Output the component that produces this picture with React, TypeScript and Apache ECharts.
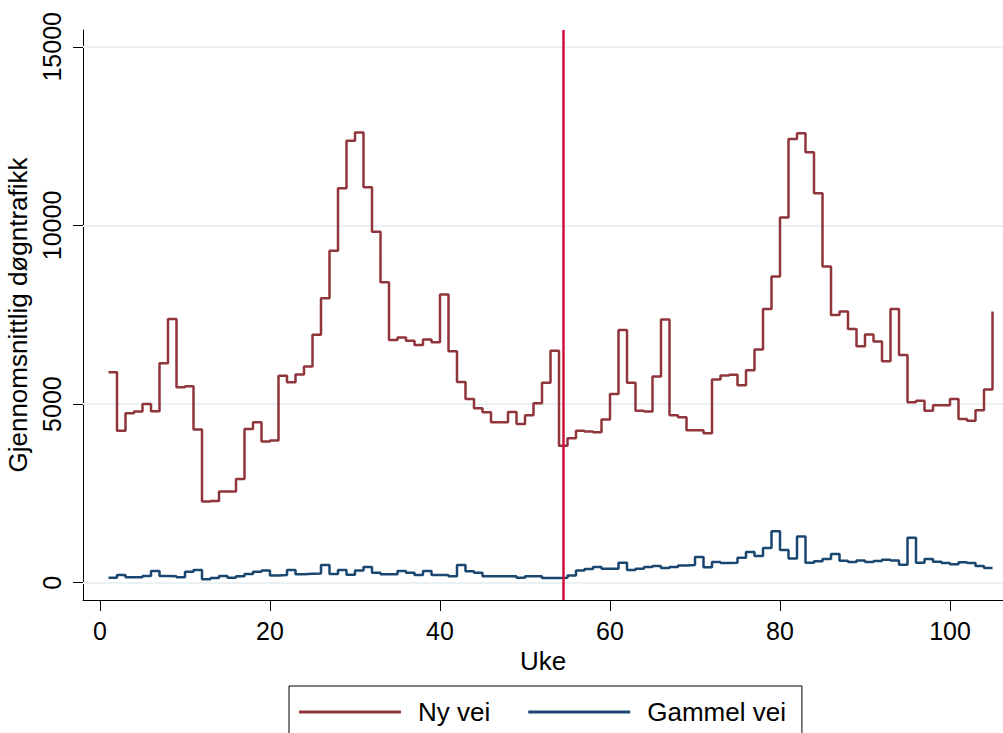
import React, { useEffect, useRef } from "react";
import * as echarts from "echarts";

const weeks: number[] = Array.from({ length: 105 }, (_, i) => i + 1);

const nyVei: number[] = [
  5890, 4250, 4740, 4790, 5000, 4800, 6140, 7380, 5470, 5500,
  4290, 2270, 2290, 2550, 2550, 2900, 4300, 4490, 3950, 3980,
  5790, 5610, 5830, 6050, 6940, 7960, 9290, 11040, 12370, 12600,
  11070, 9820, 8410, 6790, 6860, 6770, 6650, 6810, 6730, 8070,
  6480, 5620, 5140, 4880, 4770, 4490, 4490, 4780, 4440, 4690,
  5020, 5600, 6490, 3830, 4040, 4250, 4230, 4210, 4570, 5280,
  7070, 5600, 4810, 4790, 5770, 7370, 4690, 4630, 4270, 4270,
  4180, 5690, 5800, 5820, 5530, 5950, 6530, 7660, 8570, 10220,
  12420, 12580, 12050, 10900, 8850, 7490, 7590, 7100, 6620, 6950,
  6750, 6200, 7660, 6370, 5050, 5090, 4810, 4970, 4970, 5140,
  4580, 4530, 4830, 5410, 7590,
];

const gammelVei: number[] = [
  140, 215, 150, 150, 185, 325, 185, 180, 150, 310,
  355, 95, 130, 185, 140, 180, 245, 310, 345, 205,
  215, 355, 235, 250, 260, 495, 245, 355, 225, 345,
  440, 280, 235, 235, 325, 280, 215, 325, 215, 215,
  180, 495, 320, 280, 180, 180, 180, 180, 140, 180,
  180, 130, 130, 140, 205, 345, 385, 440, 390, 390,
  560, 355, 390, 440, 465, 410, 440, 485, 495, 720,
  430, 580, 550, 560, 700, 860, 745, 970, 1440, 915,
  680, 1290, 560, 600, 665, 805, 615, 580, 625, 580,
  605, 645, 625, 505, 1260, 560, 665, 590, 550, 515,
  570, 550, 465, 410, 410,
];

const xTicks: number[] = [0, 20, 40, 60, 80, 100];
const yTicks: number[] = [0, 5000, 10000, 15000];
const interventionWeek = 54.5;

const FONT = "'Liberation Sans', Arial, Helvetica, sans-serif";

export default function App() {
  const ref = useRef<HTMLDivElement>(null);

  useEffect(() => {
    if (!ref.current) return;
    const chart = echarts.init(ref.current, undefined, { renderer: "svg" });
    const nyData = weeks.map((w, i) => [w, nyVei[i]]);
    const gaData = weeks.map((w, i) => [w, gammelVei[i]]);

    chart.setOption({
      animation: false,
      backgroundColor: "#ffffff",
      textStyle: { fontFamily: FONT, color: "#000" },
      grid: { left: 83, top: 30, width: 920, bottom: 133, containLabel: false, outerBoundsMode: "none" },
      xAxis: {
        type: "value",
        min: -2,
        max: 106.235,
        name: "Uke",
        nameLocation: "middle",
        nameGap: 45,
        nameTextStyle: { fontSize: 26, color: "#000", fontFamily: FONT },
        axisLine: { show: true, onZero: false, lineStyle: { color: "#000", width: 1 } },
        axisTick: { show: true, length: 11, customValues: xTicks, lineStyle: { color: "#000", width: 1 } },
        axisLabel: {
          customValues: xTicks,
          fontSize: 25,
          color: "#000",
          margin: 18,
          fontFamily: FONT,
          formatter: (v: number) => String(v),
        },
        splitLine: { show: false },
      },
      yAxis: {
        type: "value",
        min: -484,
        max: 15470,
        name: "Gjennomsnittlig døgntrafikk",
        nameLocation: "middle",
        nameRotate: 90,
        nameGap: 44,
        nameTextStyle: { fontSize: 26, color: "#000", fontFamily: FONT },
        axisLine: { show: true, onZero: false, lineStyle: { color: "#000", width: 1 } },
        axisTick: { show: true, length: 10, customValues: yTicks, lineStyle: { color: "#000", width: 1 } },
        axisLabel: {
          customValues: yTicks,
          fontSize: 25,
          color: "#000",
          rotate: 90,
          margin: 19,
          fontFamily: FONT,
          formatter: (v: number) => String(v),
        },
        splitLine: { show: false },
      },
      legend: {
        left: 289,
        top: 686,
        orient: "horizontal",
        icon: "rect",
        itemWidth: 102,
        itemHeight: 3,
        itemGap: 38,
        padding: [13, 16, 30, 10],
        borderColor: "#000",
        borderWidth: 1,
        textStyle: { fontSize: 26, color: "#000", fontFamily: FONT, padding: [0, 0, 0, 12] },
        data: ["Ny vei", "Gammel vei"],
      },
      series: [
        {
          name: "Ny vei",
          type: "line",
          step: "end",
          data: nyData,
          showSymbol: false,
          symbol: "none",
          color: "#90353b",
          lineStyle: { color: "#90353b", width: 2.5 },
          z: 3,
          markLine: {
            silent: true,
            symbol: "none",
            z: 1,
            label: { show: false },
            lineStyle: { color: "#eaf1f3", width: 2, type: "solid" },
            data: yTicks.map((v) => ({ yAxis: v })),
          },
        },
        {
          name: "Gammel vei",
          type: "line",
          step: "end",
          data: gaData,
          showSymbol: false,
          symbol: "none",
          color: "#1a476f",
          lineStyle: { color: "#1a476f", width: 2.5 },
          z: 3,
          markLine: {
            silent: true,
            symbol: "none",
            z: 4,
            label: { show: false },
            lineStyle: { color: "#d0103a", width: 2.5, type: "solid" },
            data: [{ xAxis: interventionWeek }],
          },
        },
      ],
    });
    return () => chart.dispose();
  }, []);

  return (
    <div
      ref={ref}
      style={{ position: "fixed", left: 0, top: 0, width: 1003, height: 733, background: "#fff" }}
    />
  );
}
